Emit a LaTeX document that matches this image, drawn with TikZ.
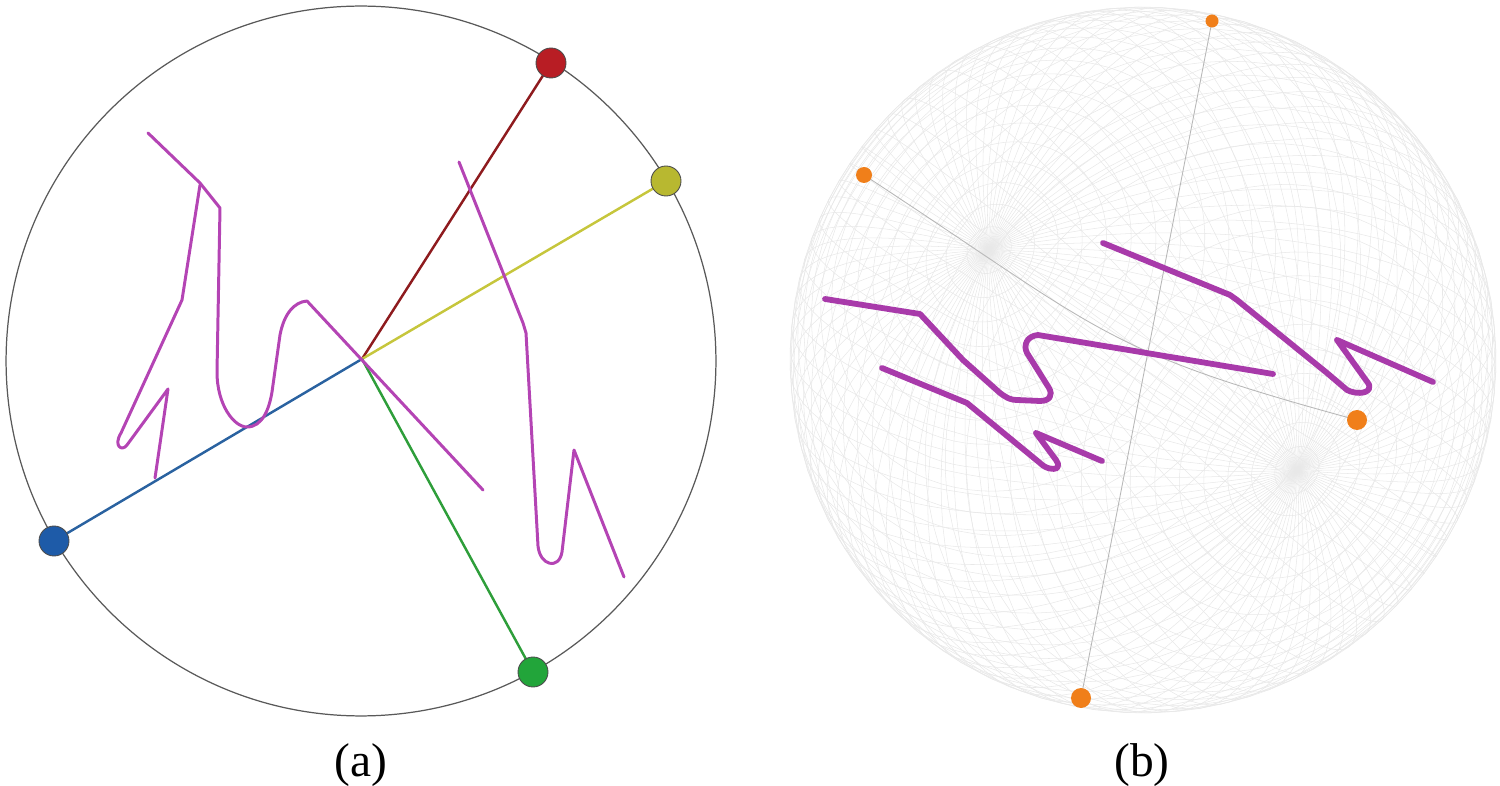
\documentclass[tikz,border=0pt]{standalone}
\usepackage{fontspec}
\setmainfont{Liberation Serif}
\definecolor{cred}{HTML}{B81D24}
\definecolor{credline}{HTML}{8E1B1E}
\definecolor{cyel}{HTML}{B8B830}
\definecolor{cyelline}{HTML}{C6C63C}
\definecolor{cblue}{HTML}{1E5BA8}
\definecolor{cblueline}{HTML}{2A62A0}
\definecolor{cgreen}{HTML}{22A53A}
\definecolor{cgreenline}{HTML}{2E9E3A}
\definecolor{cmag}{HTML}{B444B4}
\definecolor{cmagb}{HTML}{A83AAA}
\definecolor{corange}{HTML}{F07F1A}
\tikzset{
  rim/.style={draw=black!65, line width=0.7pt},
  ray/.style={line width=1.4pt},
  stroke/.style={draw=cmag, line width=1.7pt, line join=round, line cap=round},
  strokeb/.style={draw=cmagb, line width=3.3pt, line join=round, line cap=round},
  bigdot/.style={circle, draw=black!70, line width=0.5pt, minimum size=0.6cm, inner sep=0pt},
  odot/.style={circle, fill=corange, inner sep=0pt},
  mesh/.style={draw=black!9, line width=0.3pt},
  axisline/.style={draw=black!28, line width=0.5pt},
  caption/.style={inner sep=0pt, font=\fontsize{27}{31}\selectfont}
}
\begin{document}
\begin{tikzpicture}[x=0.02cm,y=-0.02cm]
\useasboundingbox (0,0) rectangle (1500,786);
% ---------- panel (a) ----------
\draw[rim] (361,361) circle [radius=7.1cm];
\coordinate (O) at (362,359);
\coordinate (pr) at (551,63);
\coordinate (py) at (666,181);
\coordinate (pb) at (54,541);
\coordinate (pg) at (533,672);
\draw[ray, draw=credline] (O) -- (pr);
\draw[ray, draw=cyelline] (O) -- (py);
\draw[ray, draw=cblueline] (O) -- (pb);
\draw[ray, draw=cgreenline] (O) -- (pg);
% magenta strokes
\draw[stroke] (148,133) -- (200,183) -- (220,208) -- (217,372)
  .. controls (217,405) and (234,427) .. (247,427)
  .. controls (262,427) and (269,410) .. (272,392)
  -- (280,335) .. controls (284,314) and (294,302) .. (307,301)
  -- (483,490);
\draw[stroke] (200,185) -- (182,300) -- (121,433)
  .. controls (113,446) and (122,452) .. (127,445)
  -- (168,389) -- (155,478);
\draw[stroke] (459,162) -- (523,323) -- (526,333) -- (538,546)
  .. controls (540,566) and (559,570) .. (562,552)
  -- (574,450) -- (624,577);
\node[bigdot, fill=cred] (dr) at (pr) {};
\node[bigdot, fill=cyel] (dy) at (py) {};
\node[bigdot, fill=cblue] (db) at (pb) {};
\node[bigdot, fill=cgreen] (dg) at (pg) {};
\node[caption] (la) at (361,765) {(a)};
% ---------- panel (b) ----------
\def\cx{1143}\def\cy{360}\def\R{353}
\foreach \l in {0,4,...,356}{
  \pgfmathsetmacro\ax{\R*(cos(\l)*(-0.581)+sin(\l)*(-0.6867))}
  \pgfmathsetmacro\ay{\R*(cos(\l)*0.814+sin(\l)*(-0.4901))}
  \draw[mesh] plot[domain=-90:90, samples=46, variable=\t]
    ({\cx+\R*0.437*sin(\t)+(\ax)*cos(\t)},{\cy+\R*0.312*sin(\t)+(\ay)*cos(\t)});
}
\foreach \p in {-86,-82,...,86}{
  \pgfmathsetmacro\ox{\cx+\R*0.437*sin(\p)}
  \pgfmathsetmacro\oy{\cy+\R*0.312*sin(\p)}
  \pgfmathsetmacro\rr{\R*cos(\p)}
  \draw[mesh] plot[domain=0:360, samples=91, variable=\t]
    ({\ox+(\rr)*(cos(\t)*(-0.581)+sin(\t)*(-0.6867))},{\oy+(\rr)*(cos(\t)*0.814+sin(\t)*(-0.4901))});
}
\coordinate (qt) at (1212,21);
\coordinate (ql) at (864,175);
\coordinate (qr) at (1357,420);
\coordinate (qb) at (1081,698);
\coordinate (c1) at (1105,333);
\coordinate (c2) at (1100,350);
\draw[axisline] (qt) -- (qb);
\draw[axisline] (ql) .. controls (c1) and (c2) .. (qr);
\draw[strokeb] (825,299) -- (920,314) -- (963,360) -- (1000,393)
  .. controls (1008,399) and (1012,400) .. (1017,400)
  -- (1040,401) .. controls (1050,401) and (1053,395) .. (1049,388)
  -- (1027,353) .. controls (1023,345) and (1027,336) .. (1038,335)
  -- (1273,374);
\draw[strokeb] (882,368) -- (967,403) -- (1040,463)
  .. controls (1046,469) and (1054,470) .. (1057,468)
  .. controls (1059,465) and (1058,462) .. (1056,460)
  -- (1036,433) -- (1102,461);
\draw[strokeb] (1103,243) -- (1230,295) -- (1237,300) -- (1327,373)
  -- (1347,390) .. controls (1355,394) and (1366,394) .. (1369,389)
  .. controls (1370,386) and (1369,384) .. (1368,383)
  -- (1337,340) -- (1433,382);
\node[odot, minimum size=0.26cm] (ot) at (qt) {};
\node[odot, minimum size=0.32cm] (ol) at (ql) {};
\node[odot, minimum size=0.4cm] (or) at (qr) {};
\node[odot, minimum size=0.4cm] (ob) at (qb) {};
\node[caption] (lb) at (1142,765) {(b)};
\end{tikzpicture}
\end{document}
